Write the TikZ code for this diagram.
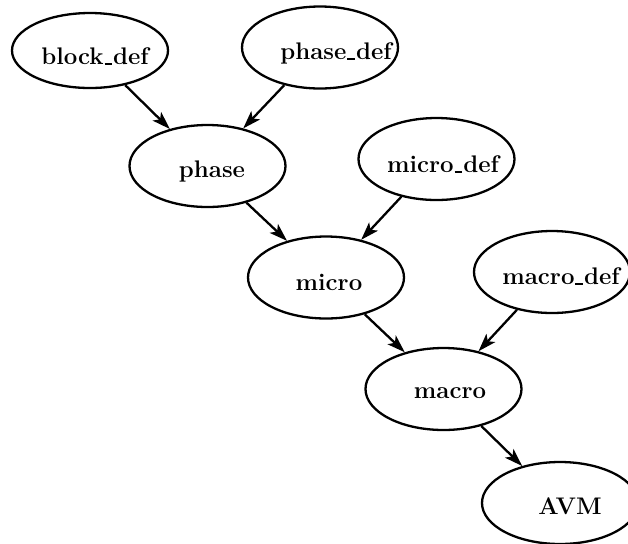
\documentclass[tikz,border=0pt]{standalone}
\usetikzlibrary{shapes.geometric,arrows.meta}
\newcommand{\us}{\kern0.04em\rule[-0.02em]{0.32em}{0.07em}\kern0.04em}
\begin{document}
\begin{tikzpicture}[x=0.5pt,y=-0.5pt,
  ell/.style={draw,ellipse,line width=1.15pt,inner sep=0pt,minimum width=78pt,minimum height=41pt},
  lbl/.style={inner sep=0pt,font=\fontsize{12}{14}\selectfont\bfseries},
  arr/.style={line width=1.15pt,-{Stealth[length=9pt,width=6pt,inset=2.2pt]}}]
\useasboundingbox (0,0) rectangle (628,543);
\node[ell,minimum height=37.5pt] (bd) at (90,50.5) {};
\node[ell] (pd) at (320,47.5) {};
\node[ell] (ph) at (207.5,166) {};
\node[ell] (md) at (436.5,159) {};
\node[ell] (mi) at (326,277.5) {};
\node[ell] (mad) at (552,272) {};
\node[ell] (ma) at (443.5,389) {};
\node[ell] (avm) at (560,503) {};
\node[lbl] (tbd) at (95,56) {block\us def};
\node[lbl] (tpd) at (336,53) {phase\us def};
\node[lbl] (tph) at (212,171) {phase};
\node[lbl] (tmd) at (443,164) {micro\us def};
\node[lbl] (tmi) at (329,282) {micro};
\node[lbl] (tmad) at (561,276) {macro\us def};
\node[lbl] (tma) at (450,393) {macro};
\node[lbl] (tavm) at (570,506) {AVM};
\draw[arr] (bd) -- (ph);
\draw[arr] (pd) -- (ph);
\draw[arr] (ph) -- (mi);
\draw[arr] (md) -- (mi);
\draw[arr] (mi) -- (ma);
\draw[arr] (mad) -- (ma);
\draw[arr] (ma) -- (avm);
\end{tikzpicture}
\end{document}
